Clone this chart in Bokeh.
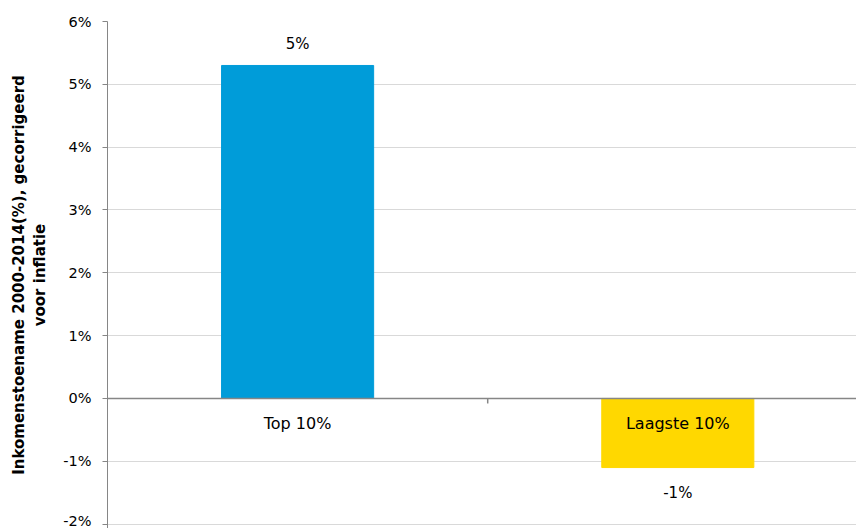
from bokeh.plotting import figure
from bokeh.models import Range1d, FixedTicker, PrintfTickFormatter, ColumnDataSource, Span
from bokeh.core.properties import value
from bokeh.embed import file_html
from bokeh.resources import INLINE

# Income growth 2000-2014, corrected for inflation (percent)
categories = ["Top 10%", "Laagste 10%"]
growth = [5.3, -1.1]
bar_colors = ["#009CD9", "#FFD800"]
y_ticks = [-2, -1, 0, 1, 2, 3, 4, 5, 6]

FONT = "DejaVu Sans"

xs = [i + 0.5 for i in range(len(categories))]
labels = [f"{round(v)}%" for v in growth]
label_offsets = [-21 if v >= 0 else 25 for v in growth]

src = ColumnDataSource(dict(x=xs, top=growth, color=bar_colors, label=labels,
                            off=label_offsets, cat=categories, zero=[0] * len(xs)))

p = figure(width=856, height=528, output_backend="svg", toolbar_location=None,
           x_range=Range1d(0, len(categories) - 0.03), y_range=Range1d(-2.07, 6),
           min_border_left=107, min_border_right=0, min_border_top=21, min_border_bottom=0)
p.outline_line_color = None
p.background_fill_color = "white"
p.border_fill_color = "white"

p.xaxis.visible = False
p.xgrid.visible = False

p.ygrid.grid_line_color = "#D9D9D9"
p.ygrid.grid_line_width = 1
p.yaxis.ticker = FixedTicker(ticks=y_ticks)
p.yaxis.formatter = PrintfTickFormatter(format="%d%%")
p.yaxis.axis_line_color = "#868686"
p.yaxis.major_tick_line_color = "#868686"
p.yaxis.major_tick_out = 5
p.yaxis.major_tick_in = 0
p.yaxis.minor_tick_line_color = None
p.yaxis.major_label_standoff = 11
p.yaxis.major_label_text_font = FONT
p.yaxis.major_label_text_font_size = "14.5px"
p.yaxis.major_label_text_color = "#000000"
p.yaxis.axis_label = "Inkomenstoename 2000-2014(%), gecorrigeerd\nvoor inflatie"
p.yaxis.axis_label_text_font = FONT
p.yaxis.axis_label_text_font_style = "bold"
p.yaxis.axis_label_text_font_size = "15px"
p.yaxis.axis_label_text_color = "#000000"
p.yaxis.axis_label_standoff = 11

p.vbar(x="x", top="top", bottom=0, width=0.4, color="color", source=src)

# zero line with a tick between the categories
p.add_layout(Span(location=0, dimension="width", line_color="#868686", line_width=1.5))
tick_len = 0.08
bounds = [(xs[i] + xs[i + 1]) / 2 for i in range(len(xs) - 1)]
p.segment(x0=bounds, y0=[0] * len(bounds), x1=bounds, y1=[-tick_len] * len(bounds),
          line_color="#868686", line_width=1.5)

p.text(x="x", y="top", text="label", y_offset="off", source=src,
       text_align="center", text_baseline="middle", text_font=value(FONT),
       text_font_size="15px", text_color="#000000")
p.text(x="x", y="zero", text="cat", y_offset=25, source=src,
       text_align="center", text_baseline="middle", text_font=value(FONT),
       text_font_size="16px", text_color="#000000")

open("out.html", "w").write(file_html(p, INLINE))
